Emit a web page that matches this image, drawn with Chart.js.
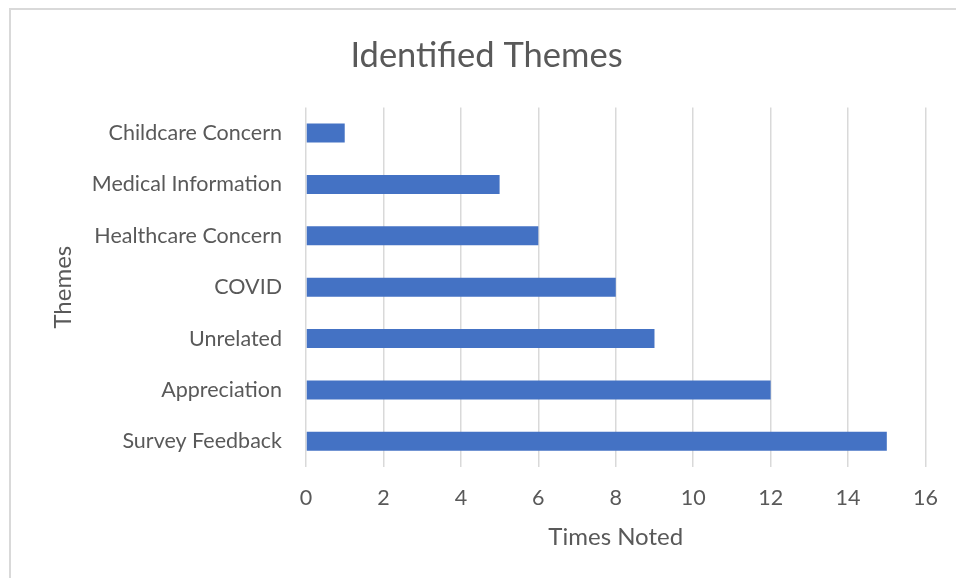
<!DOCTYPE html>
<html>
<head>
<meta charset="utf-8">
<script src="https://cdn.jsdelivr.net/npm/chart.js@4.4.0/dist/chart.umd.min.js"></script>
<style>
    html, body { margin: 0; padding: 0; background: #fff; }
    #wrap { position: relative; width: 956px; height: 578px; overflow: hidden; }
    #frame { position: absolute; left: 9px; top: 8px; width: 1000px; height: 1000px; border-left: 2px solid #d9d9d9; border-top: 2px solid #d9d9d9; }
    #myChart { position: absolute; left: 0; top: 0; }
</style>
</head>
<body>
<div id="wrap">
    <div id="frame"></div>
    <canvas id="myChart" width="956" height="578"></canvas>
</div>
<script>
const themes = ['Childcare Concern', 'Medical Information', 'Healthcare Concern', 'COVID', 'Unrelated', 'Appreciation', 'Survey Feedback']
const timesNoted = [1, 5, 6, 8, 9, 12, 15]
const xTicks = [0, 2, 4, 6, 8, 10, 12, 14, 16]

const fontFamily = 'Lato, "Open Sans", sans-serif'
const textColor = '#595959'

window.addEventListener('load', () => {
    drawChart()
})

function drawChart() {

    const data = {
        labels: themes,
        datasets: [{
            label: 'Times Noted',
            data: timesNoted,
            backgroundColor: '#4472C4',
            borderWidth: 0,
            barPercentage: 0.37,
            categoryPercentage: 1
        }]
    }

    const config = {
        type: 'bar',
        data: data,
        options: {
            indexAxis: 'y',
            responsive: false,
            animation: false,
            layout: {
                padding: { left: 45, right: 28, top: 0, bottom: 0 }
            },
            plugins: {
                legend: { display: false },
                tooltip: { enabled: false },
                title: {
                    display: true,
                    text: 'Identified Themes',
                    color: textColor,
                    font: { family: fontFamily, size: 34.5, weight: 'normal' },
                    padding: { top: 35, bottom: 31 }
                }
            },
            scales: {
                x: {
                    min: xTicks[0],
                    max: xTicks[xTicks.length - 1],
                    afterBuildTicks: (scale) => {
                        scale.ticks = xTicks.map(v => ({ value: v }))
                    },
                    afterFit: (scale) => {
                        scale.height = 111
                    },
                    grid: { color: '#d9d9d9', lineWidth: 1.5, drawTicks: false },
                    border: { display: false },
                    ticks: {
                        color: textColor,
                        padding: 18,
                        font: { family: fontFamily, size: 21.5 }
                    },
                    title: {
                        display: true,
                        text: 'Times Noted',
                        color: textColor,
                        font: { family: fontFamily, size: 24 },
                        padding: { top: 4, bottom: 26.5 }
                    }
                },
                y: {
                    afterFit: (scale) => {
                        scale.width = 261
                    },
                    grid: { display: false, drawTicks: false },
                    border: { display: false },
                    ticks: {
                        color: textColor,
                        padding: 24,
                        font: { family: fontFamily, size: 21.5 }
                    },
                    title: {
                        display: true,
                        text: 'Themes',
                        color: textColor,
                        font: { family: fontFamily, size: 24 },
                        padding: { top: 4, bottom: 4 }
                    }
                }
            }
        }
    }

    let chartCanvas = new Chart(
        document.querySelector('#myChart'),
        config
    )

}
</script>
</body>
</html>
